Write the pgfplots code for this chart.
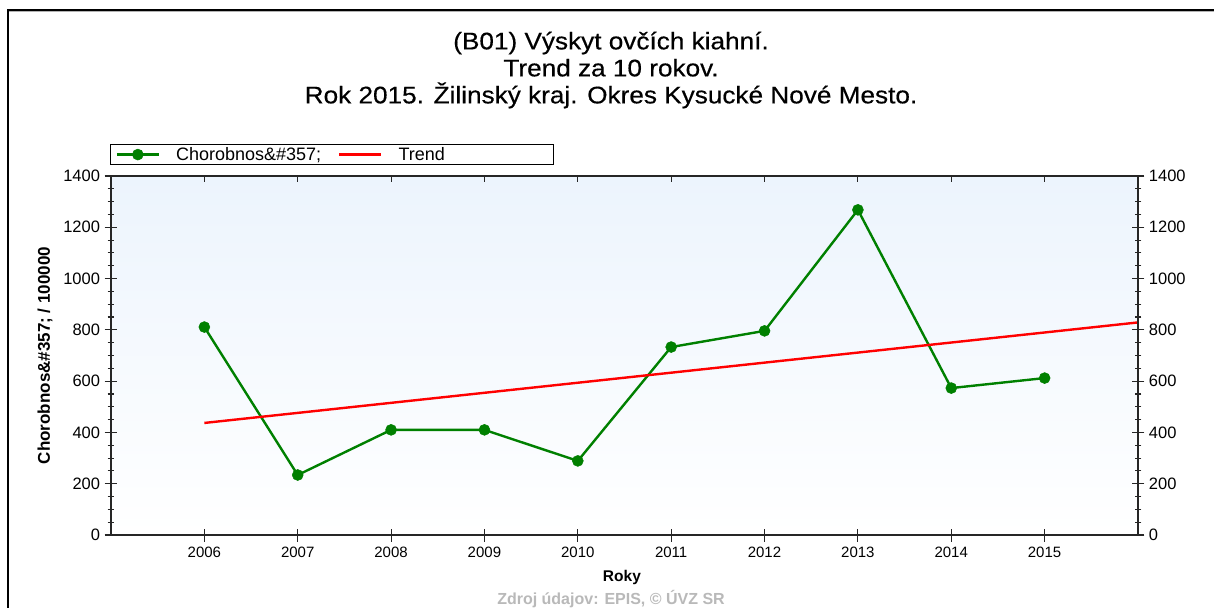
\documentclass[border=0pt]{standalone}
\usepackage{pgfplots}
\pgfplotsset{compat=1.18}
\usepackage{fontspec}
\setmainfont{Liberation Sans}
\definecolor{cgreen}{RGB}{0,128,0}
\definecolor{cred}{RGB}{255,0,0}
\definecolor{bgtop}{RGB}{236,244,253}
\definecolor{srcgray}{RGB}{185,185,185}
\begin{document}
\begin{tikzpicture}
\useasboundingbox (0,0) rectangle (1214bp,-608bp);
\clip (0,0) rectangle (1214bp,-608bp);
\fill[white] (0,0) rectangle (1214bp,-608bp);
% frame
\draw[line width=2bp, black] (8bp,-608bp) -- (8bp,-10bp) -- (1214bp,-10bp);
\draw[line width=1bp, gray!60] (9bp,-11.8bp) -- (1214bp,-11.8bp);
% title
\node[align=center, font=\fontsize{24bp}{27bp}\selectfont\addfontfeature{FakeBold=0.4,FakeStretch=1.09}] at (611bp,-70bp)
  {(B01) Výskyt ovčích kiahní.\\Trend za 10 rokov.\\Rok 2015. Žilinský kraj. Okres Kysucké Nové Mesto.};
% source
\node[font=\fontsize{16bp}{18bp}\selectfont\bfseries, text=srcgray] at (611bp,-599bp)
  {Zdroj údajov: EPIS, © ÚVZ SR};

\pgfplotsset{
  commonax/.style={
    at={(111bp,-535bp)}, anchor=south west, scale only axis,
    width=1027bp, height=359bp,
    xmin=2005, xmax=2016, ymin=0, ymax=1400,
    xtick={2006,2007,...,2015}, ytick={0,200,...,1400},
    /pgf/number format/1000 sep={},
    /pgf/number format/assume math mode=true,
    axis line style={line width=1.3bp, black!85},
    every tick/.style={line width=1.1bp, black!85},
  }
}

% main axis: data, left ticks, bottom ticks
\begin{axis}[commonax,
  axis background/.style={top color=bgtop, bottom color=white},
  xtick pos=bottom, ytick pos=left, tick align=center,
  minor y tick num=3,
  major tick length=13bp, minor tick length=7bp,
  x tick label style={font=\fontsize{15bp}{17bp}\selectfont, yshift=-2bp},
  y tick label style={font=\fontsize{16.5bp}{18bp}\selectfont, xshift=-1bp},
  xlabel={\bfseries Roky},
  xlabel style={font=\fontsize{15.5bp}{17bp}\selectfont, at={(axis description cs:0.4975,-0.117)}, anchor=center},
  ylabel={\bfseries Chorobnos\&\#357; / 100000},
  ylabel style={font=\fontsize{17bp}{19bp}\selectfont, at={(axis description cs:-0.0643,0.5)}, anchor=center, rotate=0},
  legend columns=2,
  legend cell align=left,
  legend style={at={(axis description cs:0,1)}, anchor=south west, xshift=-1bp, yshift=11bp,
    draw=black, line width=1.3bp, inner xsep=5bp, inner ysep=2.5bp,
    font=\fontsize{18bp}{20bp}\selectfont,
    nodes={inner sep=0pt, line width=0.4bp},
    /tikz/every odd column/.append style={column sep=16bp},
    /tikz/every even column/.append style={column sep=17bp}},
  legend image code/.code={\draw[mark repeat=2, mark phase=2, #1] plot coordinates {(0bp,0bp) (21bp,0bp) (42bp,0bp)};},
]
\addplot[color=cgreen, line width=2.4bp, mark=*, mark size=5.5bp, mark options={solid, fill=cgreen, line width=0.5bp}]
  coordinates {
  (2006,811) (2007,234) (2008,410) (2009,410) (2010,289)
  (2011,733) (2012,796) (2013,1268) (2014,573) (2015,612)
  };
\addlegendentry{Chorobnos\&\#357;}
\addplot[color=cred, line width=2.4bp] coordinates {(2006,437) (2016,829)};
\addlegendentry[text width=150bp]{Trend}
\end{axis}

% top ticks (inside)
\begin{axis}[commonax,
  xtick pos=top, xticklabels={}, ytick=\empty, tick align=inside,
  major tick length=6bp,
]
\end{axis}

% right ticks with labels
\begin{axis}[commonax,
  xtick=\empty, ytick pos=right, yticklabel pos=right, tick align=center,
  minor y tick num=3,
  major tick length=13bp, minor tick length=7bp,
  y tick label style={font=\fontsize{16.5bp}{18bp}\selectfont, xshift=1bp},
]
\end{axis}
\end{tikzpicture}
\end{document}
